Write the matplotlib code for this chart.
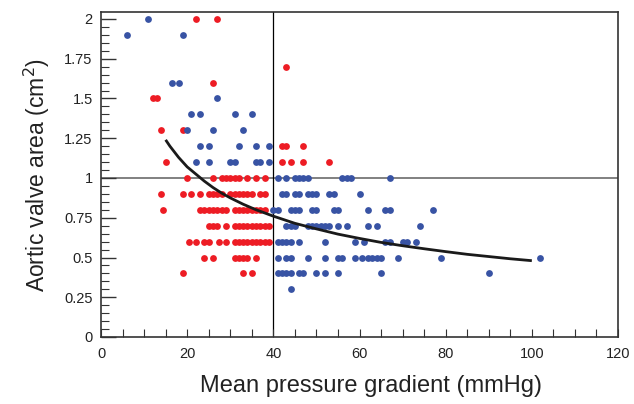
"""Aortic valve area vs mean pressure gradient scatter with fitted curve."""

import matplotlib

matplotlib.use("Agg")
import matplotlib.pyplot as plt
from matplotlib.ticker import MultipleLocator

plt.rcParams["font.family"] = ["Liberation Sans", "DejaVu Sans"]

# aortic valve area rows (cm^2) and the mean gradients (mmHg) read on each row
red_levels = [2.0, 1.7, 1.6, 1.5, 1.3, 1.2, 1.1, 1.0, 0.9, 0.8, 0.7, 0.6, 0.5, 0.4]
red_gradients = [
    [22, 27],
    [43],
    [26],
    [12, 13],
    [14, 19],
    [42, 43, 47],
    [15, 42, 44, 47, 53],
    [20, 26, 28, 29, 30, 31, 32, 34, 36, 38],
    [14, 19, 21, 23, 25, 26, 27, 28, 30, 31, 32, 33, 34, 35, 37, 38],
    [14.5, 23, 24, 25, 26, 27, 28, 29, 31, 32, 33, 34, 35, 36, 37, 38],
    [25, 26, 27, 29, 31, 32, 33, 34, 35, 36, 37, 38, 39],
    [20.5, 22, 24, 25, 27.5, 29, 31, 32, 33, 34, 35, 36, 37, 38, 39],
    [24, 26, 31, 32, 33, 34, 36],
    [19, 33, 35],
]

blue_levels = [2.0, 1.9, 1.6, 1.5, 1.4, 1.3, 1.2, 1.1, 1.0, 0.9, 0.8, 0.7, 0.6, 0.5, 0.4, 0.3]
blue_gradients = [
    [11],
    [6, 19],
    [16.5, 18],
    [27],
    [21, 23, 31, 35],
    [20, 26, 33],
    [23, 25, 32, 36, 39],
    [22, 25, 30, 31, 36, 37, 39],
    [41, 43, 45, 46, 47, 48, 56, 57, 58, 67],
    [42, 43, 45, 46, 48, 49, 50, 53, 54, 60],
    [40, 41, 44, 45, 46, 49, 50, 54, 55, 62, 66, 67, 77],
    [43, 44, 45, 48, 49, 50, 51, 52, 53, 55, 57, 62, 64, 74],
    [41, 42, 43, 44, 46, 52, 59, 61, 66, 67, 70, 71, 73],
    [41, 43, 44, 48, 52, 55, 56, 59, 60.5, 62, 63, 64, 65, 69, 79, 102],
    [41, 42, 43, 44, 46, 47, 50, 52, 55, 65, 90],
    [44],
]

# fitted curve
curve_x = [15, 16, 17, 18, 19, 20, 22, 24, 26, 28, 30, 33, 36, 40, 45,
           50, 55, 60, 65, 70, 75, 80, 85, 90, 95, 100]
curve_y = [1.24, 1.20, 1.165, 1.13, 1.10, 1.07, 1.025, 0.98, 0.94, 0.905, 0.875,
           0.835, 0.80, 0.76, 0.715, 0.68, 0.647, 0.62, 0.595, 0.574, 0.555,
           0.537, 0.52, 0.506, 0.492, 0.48]

gradient_cut = 40
area_cut = 1.0

RED = "#ed1c24"
BLUE = "#3853a4"


def flatten(levels, gradients):
    xs, ys = [], []
    for lvl, row in zip(levels, gradients):
        xs.extend(row)
        ys.extend([lvl] * len(row))
    return xs, ys


fig = plt.figure(figsize=(6.34, 4.04), dpi=100)
# frame runs a little above the top tick (2), like the original
ax = fig.add_axes([101 / 634, 1 - 337 / 404, 517 / 634, 325 / 404])

ax.axhline(area_cut, color="#808080", lw=1.4, zorder=1)
ax.axvline(gradient_cut, color="black", lw=0.9, zorder=1)

rx, ry = flatten(red_levels, red_gradients)
bx, by = flatten(blue_levels, blue_gradients)
ax.scatter(rx, ry, s=24, color=RED, linewidths=0, zorder=2)
ax.scatter(bx, by, s=24, color=BLUE, linewidths=0, zorder=2)

ax.plot(curve_x, curve_y, color="#1a1a1a", lw=2.0, zorder=3,
        solid_capstyle="butt", solid_joinstyle="round")

ax.set_xlim(0, 120)
ax.set_ylim(0, 325 / 159)
ax.xaxis.set_major_locator(MultipleLocator(20))
ax.xaxis.set_minor_locator(MultipleLocator(5))
ax.set_yticks([0, 0.25, 0.5, 0.75, 1, 1.25, 1.5, 1.75, 2],
              ["0", "0.25", "0.5", "0.75", "1", "1.25", "1.5", "1.75", "2"])
ax.set_yticks([i * 0.05 for i in range(41)], minor=True)
ax.tick_params(axis="both", which="both", direction="in", colors="#333333",
               labelcolor="#222222", labelsize=10.5, top=False, right=False)
ax.tick_params(axis="y", which="major", length=11, width=1.0, pad=6)
ax.tick_params(axis="y", which="minor", length=6, width=0.8)
ax.tick_params(axis="x", which="major", length=6, width=0.8, pad=7)
ax.tick_params(axis="x", which="minor", length=6, width=0.8)
for sp in ax.spines.values():
    sp.set_color("#333333")
    sp.set_linewidth(1.2)

ax.set_xlabel("Mean pressure gradient (mmHg)", fontsize=17, color="#222222")
ax.xaxis.set_label_coords(0.522, -0.118)
ax.set_ylabel("Aortic valve area (cm$^2$)", fontsize=16.5, color="#222222",
              labelpad=9)

fig.savefig("out.png", dpi=100)
plt.close(fig)
